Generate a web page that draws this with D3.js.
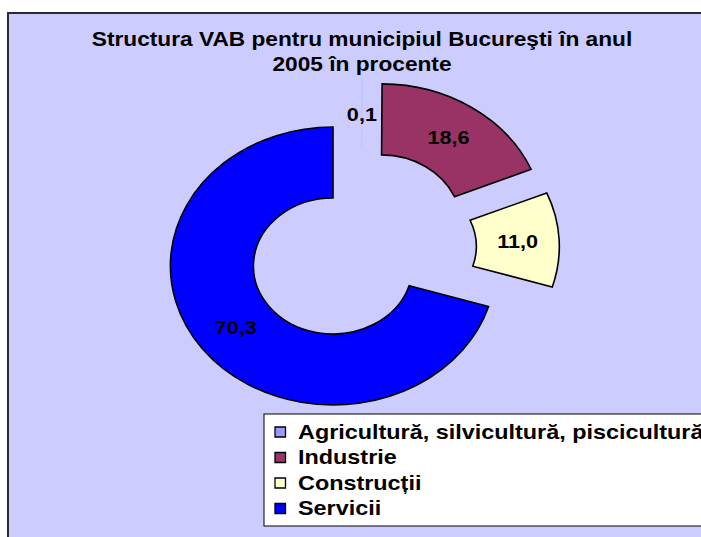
<!DOCTYPE html>
<html>
<head>
<meta charset="utf-8">
<script src="https://cdn.jsdelivr.net/npm/d3@7"></script>
<style>
  html, body { margin: 0; padding: 0; background: #fff; }
  svg { display: block; }
  text { font-family: Arial, "Liberation Sans", sans-serif; font-weight: bold; fill: #000; }
</style>
</head>
<body>
<div id="chart"></div>
<script>
// DATA
const categories = ['Agricultură, silvicultură, piscicultură', 'Industrie', 'Construcții', 'Servicii']
const values = [0.1, 18.6, 11.0, 70.3]
const colors = ['#9999FF', '#993366', '#FFFFCC', '#0000FF']
const titleLines = ['Structura VAB pentru municipiul Bucureşti în anul', '2005 în procente']

// SIZES
const width = 701
const height = 537
const sx = 1.17 // the original picture is stretched horizontally
const center = { x: 361.4 / sx, y: 248 }
const outerRadius = 139
const innerRadius = 68
const explode = 30.2

const ro = d3.formatLocale({ decimal: ',', thousands: '.', grouping: [3], currency: ['', ''] })
const fmt = ro.format('.1f')

const svg = d3.select('#chart').append('svg')
  .attr('width', width)
  .attr('height', height)

// FRAME
svg.append('rect')
  .attr('x', 8)
  .attr('y', 13)
  .attr('width', width + 20)
  .attr('height', height + 20)
  .attr('fill', '#CCCCFF')
  .attr('stroke', '#2b2b2b')
  .attr('stroke-width', 2)

// legend box goes under the stretched group
svg.append('rect')
  .attr('x', 264)
  .attr('y', 414)
  .attr('width', width)
  .attr('height', 112)
  .attr('fill', '#fff')
  .attr('stroke', '#000')
  .attr('stroke-width', 1)

const g = svg.append('g').attr('transform', `scale(${sx},1)`)

// TITLE
g.append('text')
  .attr('text-anchor', 'middle')
  .style('font-size', '19.4px')
  .selectAll('tspan')
  .data(titleLines)
  .join('tspan')
  .attr('x', 362 / sx)
  .attr('y', (d, i) => 46.5 + i * 24.3)
  .text(d => d)

// DOUGHNUT
const pie = d3.pie().sort(null).value(d => d)
const arcs = pie(values)
const arc = d3.arc().innerRadius(innerRadius).outerRadius(outerRadius)

const offset = d => {
  const mid = (d.startAngle + d.endAngle) / 2
  return [Math.sin(mid) * explode, -Math.cos(mid) * explode]
}

const slice = g.selectAll('.slice')
  .data(arcs)
  .join('g')
  .attr('class', 'slice')
  .attr('transform', d => {
    const [dx, dy] = offset(d)
    return `translate(${center.x + dx},${center.y + dy})`
  })

slice.append('path')
  .attr('d', arc)
  .attr('fill', (d, i) => colors[i])
  .attr('fill-opacity', (d, i) => i === 0 ? 0.3 : 1)
  .attr('stroke', (d, i) => i === 0 ? 'none' : '#000')
  .attr('stroke-width', 1.6)
  .attr('vector-effect', 'non-scaling-stroke')

slice.append('text')
  .attr('transform', d => `translate(${arc.centroid(d)})`)
  .attr('text-anchor', 'middle')
  .attr('dy', '0.36em')
  .style('font-size', '18.5px')
  .text(d => fmt(d.data))

// LEGEND
const item = g.selectAll('.legend-item')
  .data(categories)
  .join('g')
  .attr('class', 'legend-item')
  .attr('transform', (d, i) => `translate(${275 / sx},${432 + i * 25.5})`)

item.append('rect')
  .attr('x', 0)
  .attr('y', -5)
  .attr('width', 10.5 / sx)
  .attr('height', 10)
  .attr('fill', (d, i) => colors[i])
  .attr('stroke', '#000')
  .attr('stroke-width', 1.3)
  .attr('vector-effect', 'non-scaling-stroke')

item.append('text')
  .attr('x', 23 / sx)
  .attr('y', 6.5)
  .style('font-size', '20px')
  .text(d => d)
</script>
</body>
</html>
